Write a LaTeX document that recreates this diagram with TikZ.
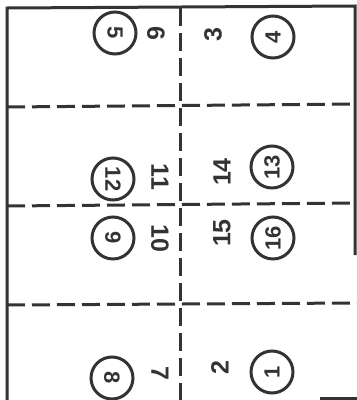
\documentclass[tikz,border=0pt]{standalone}
\usepackage{fontspec}
\setmainfont{Liberation Sans}
\usetikzlibrary{positioning}
\definecolor{ink}{HTML}{333333}
\tikzset{
  edge/.style={draw=ink, line width=3pt},
  fold/.style={draw=ink, line width=3pt, dash pattern=on 18pt off 7pt},
  pg/.style={text=ink, font=\fontsize{25}{25}\selectfont\bfseries, inner sep=0pt},
  pgc/.style={pg, draw=ink, circle, line width=3pt, minimum size=42pt, font=\fontsize{22}{22}\selectfont\bfseries},
  lt/.style={rotate=-90},
  rt/.style={rotate=90}}

\begin{document}
\begin{tikzpicture}[x=1pt, y=-1pt]
\useasboundingbox (0,0) rectangle (357,400);
% sheet edges
\coordinate (tl) at (7,8);
\coordinate (tr) at (355,6);
\coordinate (bl) at (7,400);
\coordinate (rb) at (355,255);
\coordinate (tm) at (180,8);
\coordinate (bm) at (180,400);
\draw[edge] (bl) -- (tl) -- (tr) -- (rb);
\draw[edge] (320,398) -- (357,398);
% folds
\draw[fold] (tm) -- (bm);
\draw[fold] (7,107) -- (357,104);
\draw[fold] (7,206) -- (357,203);
\draw[fold] (7,305) -- (357,303);
% row 1
\node[pgc, lt] (p5) at (115,33) {5};
\node[pg, lt] (p6) at (156,33) {6};
\node[pg, rt] (p3) at (213,35) {3};
\node[pgc, rt] (p4) at (273,37) {4};
% row 2
\node[pgc, lt] (p12) at (113,179) {12};
\node[pg, lt] (p11) at (160,177) {11};
\node[pg, rt] (p14) at (222,172) {14};
\node[pgc, rt] (p13) at (272,167) {13};
% row 3
\node[pgc, lt] (p9) at (113,238) {9};
\node[pg, lt] (p10) at (160,238) {10};
\node[pg, rt] (p15) at (222,233) {15};
\node[pgc, rt] (p16) at (273,238) {16};
% row 4
\node[pgc, lt] (p8) at (112,378) {8};
\node[pg, lt] (p7) at (160,373) {7};
\node[pg, rt] (p2) at (220,368) {2};
\node[pgc, rt] (p1) at (272,372) {1};
\end{tikzpicture}
\end{document}
